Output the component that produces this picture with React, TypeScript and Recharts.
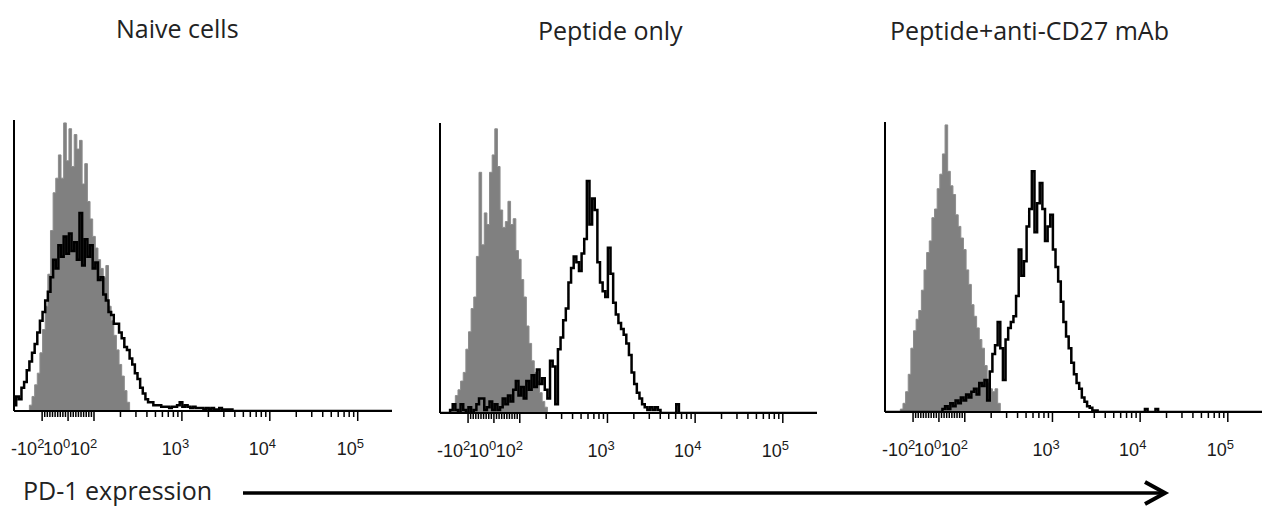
import React from "react";
import { ComposedChart, Area, Line, XAxis, YAxis } from "recharts";

// x is in display "decades" of the biexponential axis (10^3 -> 3, 10^4 -> 4 ...)
const BIN = 0.03;
const GRID_START = 1.1;
const X_DOMAIN: [number, number] = [1.09, 5.39];

const TITLES = ["Naive cells", "Peptide only", "Peptide+anti-CD27 mAb"];
const X_LABEL = "PD-1 expression";

// counts as % of panel max, one per bin, first bin at *Start
const naiveGrayStart = 1.28;
const naiveGray = [
  2, 5, 9, 13, 20, 28, 36, 47, 62, 75, 80, 88, 80, 99, 86, 97, 84, 95, 90, 93,
  78, 85, 72, 66, 60, 56, 52, 49, 46, 50, 36, 31, 26, 21, 16, 12, 7, 3,
];
const naiveBlackStart = 1.1;
const naiveBlack = [
  2, 5, 4, 8, 10, 14, 17, 20, 23, 27, 31, 34, 38, 41, 46, 52, 49, 57, 53, 60,
  54, 61, 55, 58, 52, 68, 50, 59, 53, 57, 49, 51, 45, 46, 40, 38, 34, 33, 30, 30,
  27, 25, 22, 21, 18, 16, 13, 11, 8, 6, 4, 3, 3, 2, 2, 2, 1.5, 1.5, 1.5, 1,
  1.5, 1.5, 2, 3, 1.5, 2, 1.5, 1, 1.5, 1, 1, 1, 0.5, 1, 0.5, 1, 0.5, 0.5, 1, 0.5,
  0.5, 0.5, 0.5,
];

const peptideGrayStart = 1.22;
const peptideGray = [
  1, 3, 6, 8, 11, 14, 22, 28, 36, 40, 54, 83, 58, 69, 65, 83, 89, 98, 85, 70,
  64, 66, 73, 65, 67, 56, 53, 46, 40, 30, 24, 18, 14, 11, 7, 4, 2,
];
const peptideBlackStart = 1.22;
const peptideBlack = [
  1, 3, 1, 0, 3, 1, 0, 2, 0, 1, 3, 5, 5, 1, 2, 4, 1, 3, 1, 2,
  5, 3, 6, 4, 8, 11, 6, 9, 5, 11, 8, 13, 9, 15, 10, 12, 8, 5, 18, 16,
  3, 22, 26, 32, 36, 45, 50, 54, 52, 49, 55, 60, 80, 65, 74, 70, 52, 45, 42, 40,
  57, 48, 38, 34, 31, 29, 27, 24, 20, 14, 10, 7, 5, 3, 2, 1, 2, 1, 2, 1,
  0, 0, 0, 0, 0, 0, 3, 0,
];

const cd27GrayStart = 1.28;
const cd27Gray = [
  1, 3, 7, 13, 22, 28, 32, 35, 42, 49, 55, 59, 67, 70, 77, 82, 89, 99, 83, 78,
  75, 68, 64, 60, 56, 49, 44, 37, 33, 29, 25, 22, 16, 10, 8, 7, 8, 3,
];
const cd27BlackStart = 1.76;
const cd27Black = [
  1, 2, 1, 3, 2, 4, 3, 5, 4, 6, 5, 7, 8, 6, 10, 9, 11, 4, 14, 20,
  23, 31, 22, 11, 25, 29, 31, 33, 40, 56, 47, 52, 64, 70, 83, 62, 72, 79, 70, 59,
  64, 68, 56, 50, 45, 38, 31, 26, 22, 17, 13, 10, 8, 5, 3.5, 2, 1.5, 0.5, 0.5, 0,
  0, 0, 0, 0, 0, 0, 0, 0, 0, 0, 0, 0, 0, 0, 0, 0, 0, 1, 0, 0, 0, 1, 0,
];

// axis: labelled ticks and minor ticks
const toU = (v: number) =>
  Math.abs(v) <= 100 ? 1.705 + v * 0.00295 : Math.log10(v);
const MAJOR = [
  { u: toU(-100), base: "-10", sup: "2", dx: -5 },
  { u: toU(0), base: "10", sup: "0", dx: -5 },
  { u: toU(100), base: "10", sup: "2", dx: -4 },
  { u: 3, base: "10", sup: "3", dx: 0 },
  { u: 4, base: "10", sup: "4", dx: -1 },
  { u: 5, base: "10", sup: "5", dx: -1 },
];
const LINEAR_MINOR = [-90, -80, -70, -60, -50, -40, -30, -20, -10, 10, 20, 30, 40, 50, 60, 70, 80, 90];
const LOG_MULT = [2, 3, 4, 5, 6, 7, 8, 9];
const TICKS = [
  ...MAJOR.map((m) => m.u),
  ...LINEAR_MINOR.map(toU),
  ...[2, 3, 4].flatMap((d) => LOG_MULT.map((k) => d + Math.log10(k))),
];

const buildRows = (gs: number, gray: number[], bs: number, black: number[]) => {
  const rows: { u: number; gray: number; black: number }[] = [];
  for (let i = 0; ; i++) {
    const u = +(GRID_START + i * BIN).toFixed(2);
    if (u > X_DOMAIN[1]) break;
    const gi = Math.round((u - gs) / BIN);
    const bi = Math.round((u - bs) / BIN);
    rows.push({ u, gray: gray[gi] ?? 0, black: black[bi] ?? 0 });
  }
  return rows;
};

const PANELS = [
  { left: 4, top: 115, w: 392, plotH: 291, titleX: 116, titleY: 38, rows: buildRows(naiveGrayStart, naiveGray, naiveBlackStart, naiveBlack) },
  { left: 430, top: 118, w: 391, plotH: 290, titleX: 538, titleY: 40, rows: buildRows(peptideGrayStart, peptideGray, peptideBlackStart, peptideBlack) },
  { left: 875, top: 117, w: 391, plotH: 290, titleX: 890, titleY: 40, rows: buildRows(cd27GrayStart, cd27Gray, cd27BlackStart, cd27Black) },
];

const AxisTick = (props: any) => {
  const { x, y, payload } = props;
  const lab = MAJOR.find((m) => Math.abs(m.u - payload.value) < 1e-6);
  return (
    <g>
      <line x1={x} y1={y} x2={x} y2={y + (lab ? 10 : 6)} stroke="#000" strokeWidth={1.5} />
      {lab && (
        <g fontFamily="'Liberation Sans', Arial, sans-serif" fill="#1a1a1a">
          <text x={x + lab.dx} y={y + 44} fontSize={18} textAnchor="end">
            {lab.base}
          </text>
          <text x={x + lab.dx} y={y + 37} fontSize={13} textAnchor="start">
            {lab.sup}
          </text>
        </g>
      )}
    </g>
  );
};

const Histogram = ({ rows, w, plotH }: any) => (
  <ComposedChart
    width={w}
    height={5 + plotH + 55}
    data={rows}
    margin={{ top: 5, right: 4, bottom: 0, left: 6 }}
  >
    <XAxis
      dataKey="u"
      type="number"
      domain={X_DOMAIN}
      allowDataOverflow
      ticks={TICKS}
      interval={0}
      tickLine={false}
      tickSize={0}
      tickMargin={0}
      tick={<AxisTick />}
      axisLine={{ stroke: "#000", strokeWidth: 2 }}
      height={55}
    />
    <YAxis
      domain={[0, 100]}
      allowDataOverflow
      tick={false}
      tickLine={false}
      width={4}
      axisLine={{ stroke: "#000", strokeWidth: 2 }}
    />
    <Area
      type="step"
      dataKey="gray"
      fill="#808080"
      fillOpacity={1}
      stroke="#8c8c8c"
      strokeWidth={1}
      isAnimationActive={false}
    />
    <Line
      type="step"
      dataKey="black"
      stroke="#000"
      strokeWidth={2.5}
      dot={false}
      activeDot={false}
      isAnimationActive={false}
    />
  </ComposedChart>
);

export default function App() {
  return (
    <div
      style={{
        position: "absolute",
        left: 0,
        top: 0,
        width: 1270,
        height: 506,
        background: "#fff",
        overflow: "hidden",
      }}
    >
      {PANELS.map((p, i) => (
        <div key={i} style={{ position: "absolute", left: p.left, top: p.top }}>
          <Histogram rows={p.rows} w={p.w} plotH={p.plotH} />
        </div>
      ))}
      <svg
        width={1270}
        height={506}
        style={{ position: "absolute", left: 0, top: 0, pointerEvents: "none" }}
      >
        <g fontFamily="'Open Sans', sans-serif" fontSize={25} fill="#222">
          {PANELS.map((p, i) => (
            <text key={i} x={p.titleX} y={p.titleY}>
              {TITLES[i]}
            </text>
          ))}
          <text x={23} y={500}>
            {X_LABEL}
          </text>
        </g>
        <line x1={243} y1={493} x2={1162} y2={493} stroke="#000" strokeWidth={3.5} />
        <polyline
          points="1145,482 1165,493 1145,504"
          fill="none"
          stroke="#000"
          strokeWidth={4}
        />
      </svg>
    </div>
  );
}
